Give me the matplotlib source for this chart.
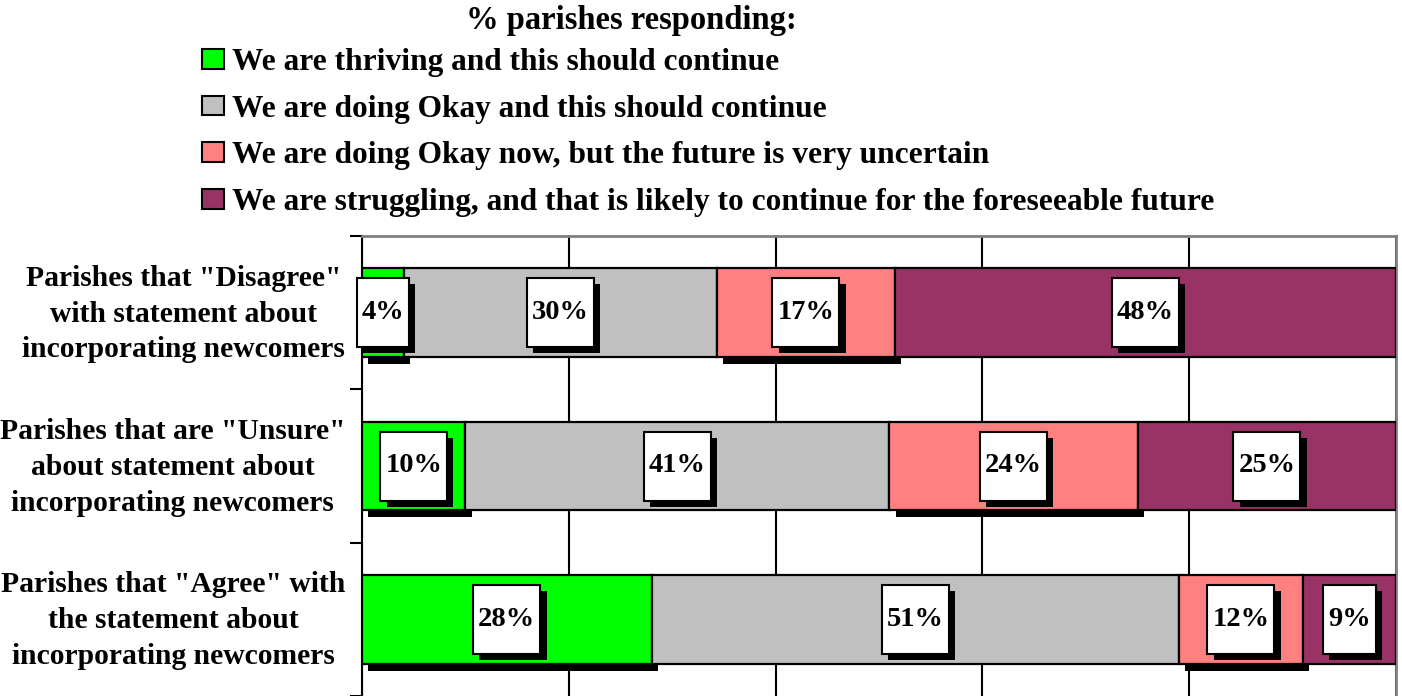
import numpy as np
import matplotlib.pyplot as plt
import matplotlib.patches as mpatches
import matplotlib.patheffects as pe
import matplotlib.transforms as mtransforms

plt.rcParams['font.family'] = ['Liberation Serif', 'DejaVu Serif']
plt.rcParams['font.weight'] = 'bold'

# data, top row first
groups = ['Parishes that "Disagree"\nwith statement about\nincorporating newcomers',
          'Parishes that are "Unsure"\nabout statement about\nincorporating newcomers',
          'Parishes that "Agree" with\nthe statement about\nincorporating newcomers']
series_names = ['We are thriving and this should continue',
                'We are doing Okay and this should continue',
                'We are doing Okay now, but the future is very uncertain',
                'We are struggling, and that is likely to continue for the foreseeable future']
thriving = [4, 10, 28]
okay = [30, 41, 51]
uncertain = [17, 24, 12]
struggling = [48, 25, 9]
colors = ['#00FF00', '#C0C0C0', '#FF8080', '#993366']
has_shadow = [True, False, True, False]

data = np.array([thriving, okay, uncertain, struggling], dtype=float)
shares = data / data.sum(axis=0)
ypos = np.arange(len(groups))[::-1]

fig = plt.figure(figsize=(14.02, 6.96), dpi=100)
ax = fig.add_axes([362/1402, 0, 1034/1402, 460/696])

shadow = [pe.SimplePatchShadow(offset=(4.5, -5), shadow_rgbFace='black', alpha=1), pe.Normal()]

left = np.zeros(len(groups))
for i in range(4):
    bars = ax.barh(ypos, shares[i], left=left, height=0.58, color=colors[i],
                   edgecolor='black', linewidth=1.6, zorder=3)
    if has_shadow[i]:
        for b in bars:
            b.set_path_effects(shadow)
    left += shares[i]

ax.set_xlim(0, 1)
ax.set_ylim(-0.5, 2.5)
ax.set_xticks(np.arange(0, 1.01, 0.2))
ax.set_xticklabels([])
ax.tick_params(axis='x', length=0)
ax.grid(axis='x', color='black', linewidth=1.5)
ax.set_axisbelow(True)

ax.set_yticks([-0.5, 0.5, 1.5, 2.5])
ax.set_yticklabels([])
ax.tick_params(axis='y', which='major', length=9, width=1.5, color='black')
ax.set_yticks(ypos, minor=True)
ax.set_yticklabels(groups, minor=True, fontsize=21.3, multialignment='center', linespacing=1.42)
ax.tick_params(axis='y', which='minor', length=0, pad=12)
lift = mtransforms.ScaledTranslation(0, 6/100, fig.dpi_scale_trans)
for lbl in ax.get_yticklabels(minor=True):
    lbl.set_transform(lbl.get_transform() + lift)

ax.spines['left'].set_linewidth(1.5)
ax.spines['bottom'].set_visible(False)
for s in ['top', 'right']:
    ax.spines[s].set_color('#808080')
    ax.spines[s].set_linewidth(2)

# value labels in white boxes with shadows
fig.canvas.draw()
renderer = fig.canvas.get_renderer()
box_shadow = [pe.SimplePatchShadow(offset=(4.5, -4.5), shadow_rgbFace='black', alpha=1), pe.Normal()]
left = np.zeros(len(groups))
for i in range(4):
    for j in range(len(groups)):
        xc = left[j] + shares[i][j] / 2
        yc = ypos[j]
        t = ax.text(xc, yc, '%d%%' % data[i][j], ha='center', va='center',
                    fontsize=20.5, zorder=7)
        bb = t.get_window_extent(renderer)
        w = bb.width / fig.dpi + 0.1
        h = 0.69
        tr = fig.dpi_scale_trans + mtransforms.ScaledTranslation(xc, yc, ax.transData)
        r = mpatches.Rectangle((-w/2, -h/2), w, h, transform=tr, facecolor='white',
                               edgecolor='black', linewidth=1.5, zorder=6, clip_on=False)
        r.set_path_effects(box_shadow)
        ax.add_patch(r)
    left += shares[i]

handles = [mpatches.Patch(facecolor=c, edgecolor='black', linewidth=1.5) for c in colors]
fig.text(631/1402, 1 - 20/696, '% parishes responding:', ha='center', va='center', fontsize=23.5)
fig.legend(handles=handles, labels=series_names, loc='upper left',
           bbox_to_anchor=(202/1402, 1 - 48/696), frameon=False, fontsize=22.6,
           handlelength=0.7, handleheight=0.6, handletextpad=0.25, labelspacing=0.56,
           borderpad=0, borderaxespad=0)

fig.savefig('out.png', dpi=100)
